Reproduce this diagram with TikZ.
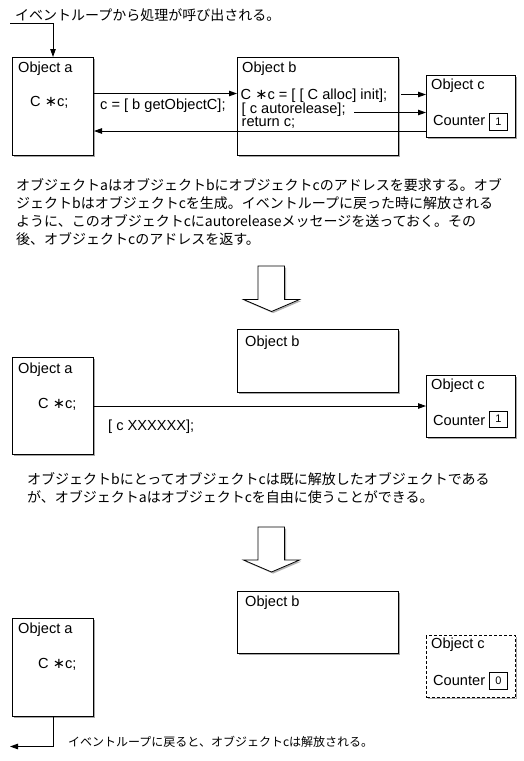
\documentclass[tikz,border=0pt]{standalone}
\usepackage{fontspec}
\setmainfont{Liberation Sans}
\newfontfamily\jpfont{Noto Sans CJK JP}
\newfontfamily\djfont{DejaVu Sans}
\usetikzlibrary{arrows.meta,shadows}
\newcommand\myast{{\djfont ∗}}
\begin{document}
\begin{tikzpicture}[x=1pt,y=-1pt,
  obj/.style={draw, line width=1pt, fill=white, anchor=north west, inner sep=0pt,
    drop shadow={shadow xshift=1.6pt, shadow yshift=-1.6pt, fill=black, opacity=0.35}},
  lat/.style={font=\fontsize{14.6}{14.6}\selectfont, anchor=base west, inner sep=0pt},
  jp/.style={font=\jpfont\fontsize{14}{14}\selectfont, anchor=base west, inner sep=0pt},
  jps/.style={font=\jpfont\fontsize{12}{12}\selectfont, anchor=base west, inner sep=0pt},
  cnt/.style={draw, line width=0.7pt, anchor=north west, inner sep=0pt, minimum width=18pt,
    minimum height=16.5pt, font=\fontsize{11}{11}\selectfont},
  arr/.style={line width=0.9pt, -{Triangle[length=8pt,width=5.5pt]}},
  hollow/.style={draw, line width=0.8pt, fill=white, line join=miter,
    drop shadow={shadow xshift=1.6pt, shadow yshift=-1.6pt, fill=black, opacity=0.3}}]
\useasboundingbox (0,0) rectangle (524,761);

% ---------- panel 1 ----------
\node[jp] (top) at (15,20) {イベントループから処理が呼び出される。};
\node[obj, minimum width=81pt, minimum height=98pt] (a1) at (12,57) {};
\node[obj, minimum width=161pt, minimum height=98pt] (b1) at (237,57) {};
\node[obj, minimum width=89pt, minimum height=62pt] (c1) at (426,75) {};
\node[lat] (a1t) at (18,72) {Object a};
\node[lat] (a1v) at (30,106) {C \myast c;};
\node[lat] (b1t) at (242,72) {Object b};
\node[lat] (b1l1) at (240.5,99.5) {C \myast c = [ [ C alloc] init];};
\node[lat] (b1l2) at (241.5,113) {[ c autorelease];};
\node[lat] (b1l3) at (241.5,126.5) {return c;};
\node[lat] (c1t) at (431,89) {Object c};
\node[lat] (c1n) at (433,125) {Counter};
\node[cnt] (c1v) at (489,113) {1};

\coordinate (in) at (10,23);
\draw[arr] (in) -| (a1.north);
\draw[arr] ([yshift=13pt]a1.east) -- ([yshift=13pt]a1.east -| b1.west);
\node[lat] (getc) at (100,109) {c = [ b getObjectC];};
\draw[arr] ([xshift=2pt,yshift=12pt]b1.east) -- ([yshift=12pt]b1.east -| c1.west);
\coordinate (ar) at (354,112.5);
\draw[arr] (ar) -- (ar -| c1.west);
\draw[arr] ([yshift=-24.5pt]c1.west) -- ([yshift=-24.5pt]c1.west -| a1.east);

\node[jp] (p1a) at (16,190) {オブジェクトaはオブジェクトbにオブジェクトcのアドレスを要求する。オブ};
\node[jp] (p1b) at (16,208) {ジェクトbはオブジェクトcを生成。イベントループに戻った時に解放される};
\node[jp] (p1c) at (16,226) {ように、このオブジェクトcにautoreleaseメッセージを送っておく。その};
\node[jp] (p1d) at (16,244) {後、オブジェクトcのアドレスを返す。};

\draw[hollow] (258,266) -- (284.5,266) -- (284.5,299.5) -- (299.5,299.5) -- (271.5,311.5)
  -- (243.5,299.5) -- (258,299.5) -- cycle;

% ---------- panel 2 ----------
\node[obj, minimum width=161pt, minimum height=63pt] (b2) at (237,329) {};
\node[obj, minimum width=81pt, minimum height=97pt] (a2) at (12,357) {};
\node[obj, minimum width=89pt, minimum height=62pt] (c2) at (426,375) {};
\node[lat] (b2t) at (245,346) {Object b};
\node[lat] (a2t) at (18,373) {Object a};
\node[lat] (a2v) at (38,408) {C \myast c;};
\node[lat] (c2t) at (431,389) {Object c};
\node[lat] (c2n) at (433,425) {Counter};
\node[cnt] (c2v) at (489,410.5) {1};
\draw[arr] (a2.east) -- (a2.east -| c2.west);
\node[lat] (xx) at (108,430) {[ c XXXXXX];};

\node[jp] (p2a) at (27,484) {オブジェクトbにとってオブジェクトcは既に解放したオブジェクトである};
\node[jp] (p2b) at (27,502) {が、オブジェクトaはオブジェクトcを自由に使うことができる。};

\draw[hollow] (258,527) -- (284.5,527) -- (284.5,560) -- (299.5,560) -- (271.5,572)
  -- (243.5,560) -- (258,560) -- cycle;

% ---------- panel 3 ----------
\node[obj, minimum width=161pt, minimum height=62pt] (b3) at (237,591) {};
\node[obj, minimum width=81pt, minimum height=98pt] (a3) at (12,618) {};
\node[obj, dash pattern=on 3pt off 2pt, minimum width=89pt, minimum height=62pt] (c3) at (426,635) {};
\node[lat] (b3t) at (245,606) {Object b};
\node[lat] (a3t) at (18,633) {Object a};
\node[lat] (a3v) at (38,668) {C \myast c;};
\node[lat] (c3t) at (431,648) {Object c};
\node[lat] (c3n) at (433,685) {Counter};
\node[cnt] (c3v) at (489,672) {0};

\coordinate (out) at (10,746.5);
\draw[arr] (a3.south) |- (out);
\node[jps] (bot) at (68,746) {イベントループに戻ると、オブジェクトcは解放される。};
\end{tikzpicture}
\end{document}
